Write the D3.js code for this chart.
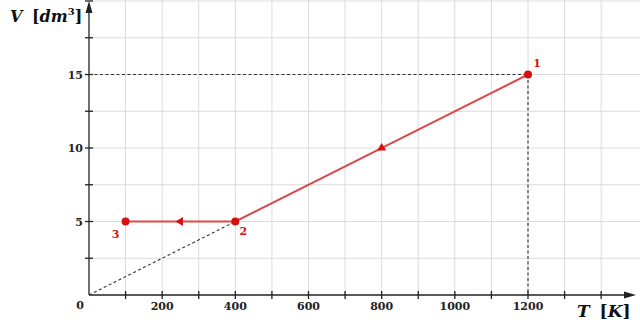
<!DOCTYPE html>
<html><head><meta charset="utf-8">
<script src="https://cdn.jsdelivr.net/npm/d3@7"></script>
<style>body{margin:0;background:#fff}svg{display:block}</style>
</head><body>
<script>
const pathT = [1200, 400, 100];
const pathV = [15, 5, 5];
const pointLabels = ["1", "2", "3"];
const xTickLabels = [200, 400, 600, 800, 1000, 1200];
const yTickLabels = [5, 10, 15];
const isoT = [0, 400];
const isoV = [0, 5];
const arrowMarks = [{T: 800, V: 10, dir: "up"}, {T: 250, V: 5, dir: "left"}];

const W = 640, H = 330;
const svg = d3.select("body").append("svg").attr("width", W).attr("height", H);
const x = d3.scaleLinear().domain([0, 1200]).range([89, 528]);
const y = d3.scaleLinear().domain([0, 15]).range([295, 74.5]);
const serif = "'DejaVu Serif', 'Liberation Serif', serif";

// grid
const g = svg.append("g");
d3.range(100, 1500, 100).forEach(t => g.append("line").attr("x1", x(t)).attr("x2", x(t)).attr("y1", 0).attr("y2", y(0)).attr("stroke", "#dcdcdc").attr("stroke-width", 1));
d3.range(2.5, 20.1, 2.5).forEach(v => g.append("line").attr("x1", x(0)).attr("x2", W).attr("y1", y(v)).attr("y2", y(v)).attr("stroke", "#dcdcdc").attr("stroke-width", 1));

// axes
const ax = svg.append("g").attr("stroke", "#222").attr("stroke-width", 1.3);
ax.append("line").attr("x1", x(0)).attr("x2", 628).attr("y1", y(0)).attr("y2", y(0));
ax.append("line").attr("x1", x(0)).attr("x2", x(0)).attr("y1", y(0)).attr("y2", 8);
svg.append("path").attr("d", `M636,${y(0)} L624,${y(0)-3.5} L624,${y(0)+3.5}Z`).attr("fill", "#222");
svg.append("path").attr("d", `M${x(0)},1 L${x(0)-3.5},13 L${x(0)+3.5},13Z`).attr("fill", "#222");
d3.range(100, 1500, 100).forEach(t => ax.append("line").attr("x1", x(t)).attr("x2", x(t)).attr("y1", y(0)-4).attr("y2", y(0)+4));
d3.range(2.5, 20.1, 2.5).forEach(v => ax.append("line").attr("x1", x(0)-4).attr("x2", x(0)+4).attr("y1", y(v)).attr("y2", y(v)));

// tick labels
svg.selectAll(".xl").data(xTickLabels).enter().append("text")
  .attr("x", d => x(d)).attr("y", y(0) + 15).attr("text-anchor", "middle")
  .attr("font-family", serif).attr("font-size", 11).attr("font-weight", "bold").attr("fill", "#222").text(d => d);
svg.selectAll(".yl").data(yTickLabels).enter().append("text")
  .attr("x", x(0) - 6).attr("y", d => y(d) + 4).attr("text-anchor", "end")
  .attr("font-family", serif).attr("font-size", 11).attr("font-weight", "bold").attr("fill", "#222").text(d => d);
svg.append("text").attr("x", 80).attr("y", y(0) + 14).attr("text-anchor", "middle")
  .attr("font-family", serif).attr("font-size", 11).attr("font-weight", "bold").attr("fill", "#222").text("0");

// axis titles
const t1 = svg.append("text").attr("x", 10).attr("y", 22).attr("font-family", serif).attr("font-size", 16).attr("font-weight", "bold").attr("fill", "#111");
t1.append("tspan").attr("font-style", "italic").text("V");
t1.append("tspan").attr("dx", 4).text(" [");
t1.append("tspan").attr("font-style", "italic").text("dm");
t1.append("tspan").attr("font-size", 10).attr("dy", -7).text("3");
t1.append("tspan").attr("dy", 7).text("]");
const t2 = svg.append("text").attr("x", 577).attr("y", 317).attr("font-family", serif).attr("font-size", 17).attr("font-weight", "bold").attr("fill", "#111");
t2.append("tspan").attr("font-style", "italic").text("T");
t2.append("tspan").attr("dx", 4).text(" [");
t2.append("tspan").attr("font-style", "italic").text("K");
t2.append("tspan").text("]");

// dashed helpers
const dash = svg.append("g").attr("stroke", "#333").attr("stroke-width", 1.1).attr("stroke-dasharray", "3,2.5");
dash.append("line").attr("x1", x(0)).attr("x2", x(pathT[0])).attr("y1", y(pathV[0])).attr("y2", y(pathV[0]));
dash.append("line").attr("x1", x(pathT[0])).attr("x2", x(pathT[0])).attr("y1", y(pathV[0])).attr("y2", y(0));
dash.append("line").attr("x1", x(isoT[0])).attr("x2", x(isoT[1])).attr("y1", y(isoV[0])).attr("y2", y(isoV[1]));

// process path
const pts = pathT.map((t, i) => [t, pathV[i]]);
svg.append("path").datum(pts).attr("d", d3.line().x(d => x(d[0])).y(d => y(d[1])))
  .attr("fill", "none").attr("stroke", "#e04848").attr("stroke-width", 2);

// arrows
arrowMarks.forEach(a => {
  const cx = x(a.T), cy = y(a.V);
  const d = a.dir === "up" ? `M${cx},${cy-5} L${cx-4.5},${cy+2.5} L${cx+4.5},${cy+2.5}Z`
                           : `M${cx-5},${cy} L${cx+2.5},${cy-4.5} L${cx+2.5},${cy+4.5}Z`;
  svg.append("path").attr("d", d).attr("fill", "#d41010");
});

// points
svg.selectAll(".pt").data(pts).enter().append("circle")
  .attr("cx", d => x(d[0])).attr("cy", d => y(d[1])).attr("r", 4).attr("fill", "#d41010");
const lblOff = [[9, -8], [8, 13], [-10, 16]];
svg.selectAll(".pl").data(pointLabels).enter().append("text")
  .attr("x", (d, i) => x(pts[i][0]) + lblOff[i][0]).attr("y", (d, i) => y(pts[i][1]) + lblOff[i][1])
  .attr("text-anchor", "middle").attr("font-family", serif).attr("font-size", 11).attr("font-weight", "bold")
  .attr("fill", "#d41010").text(d => d);
</script>
</body></html>
